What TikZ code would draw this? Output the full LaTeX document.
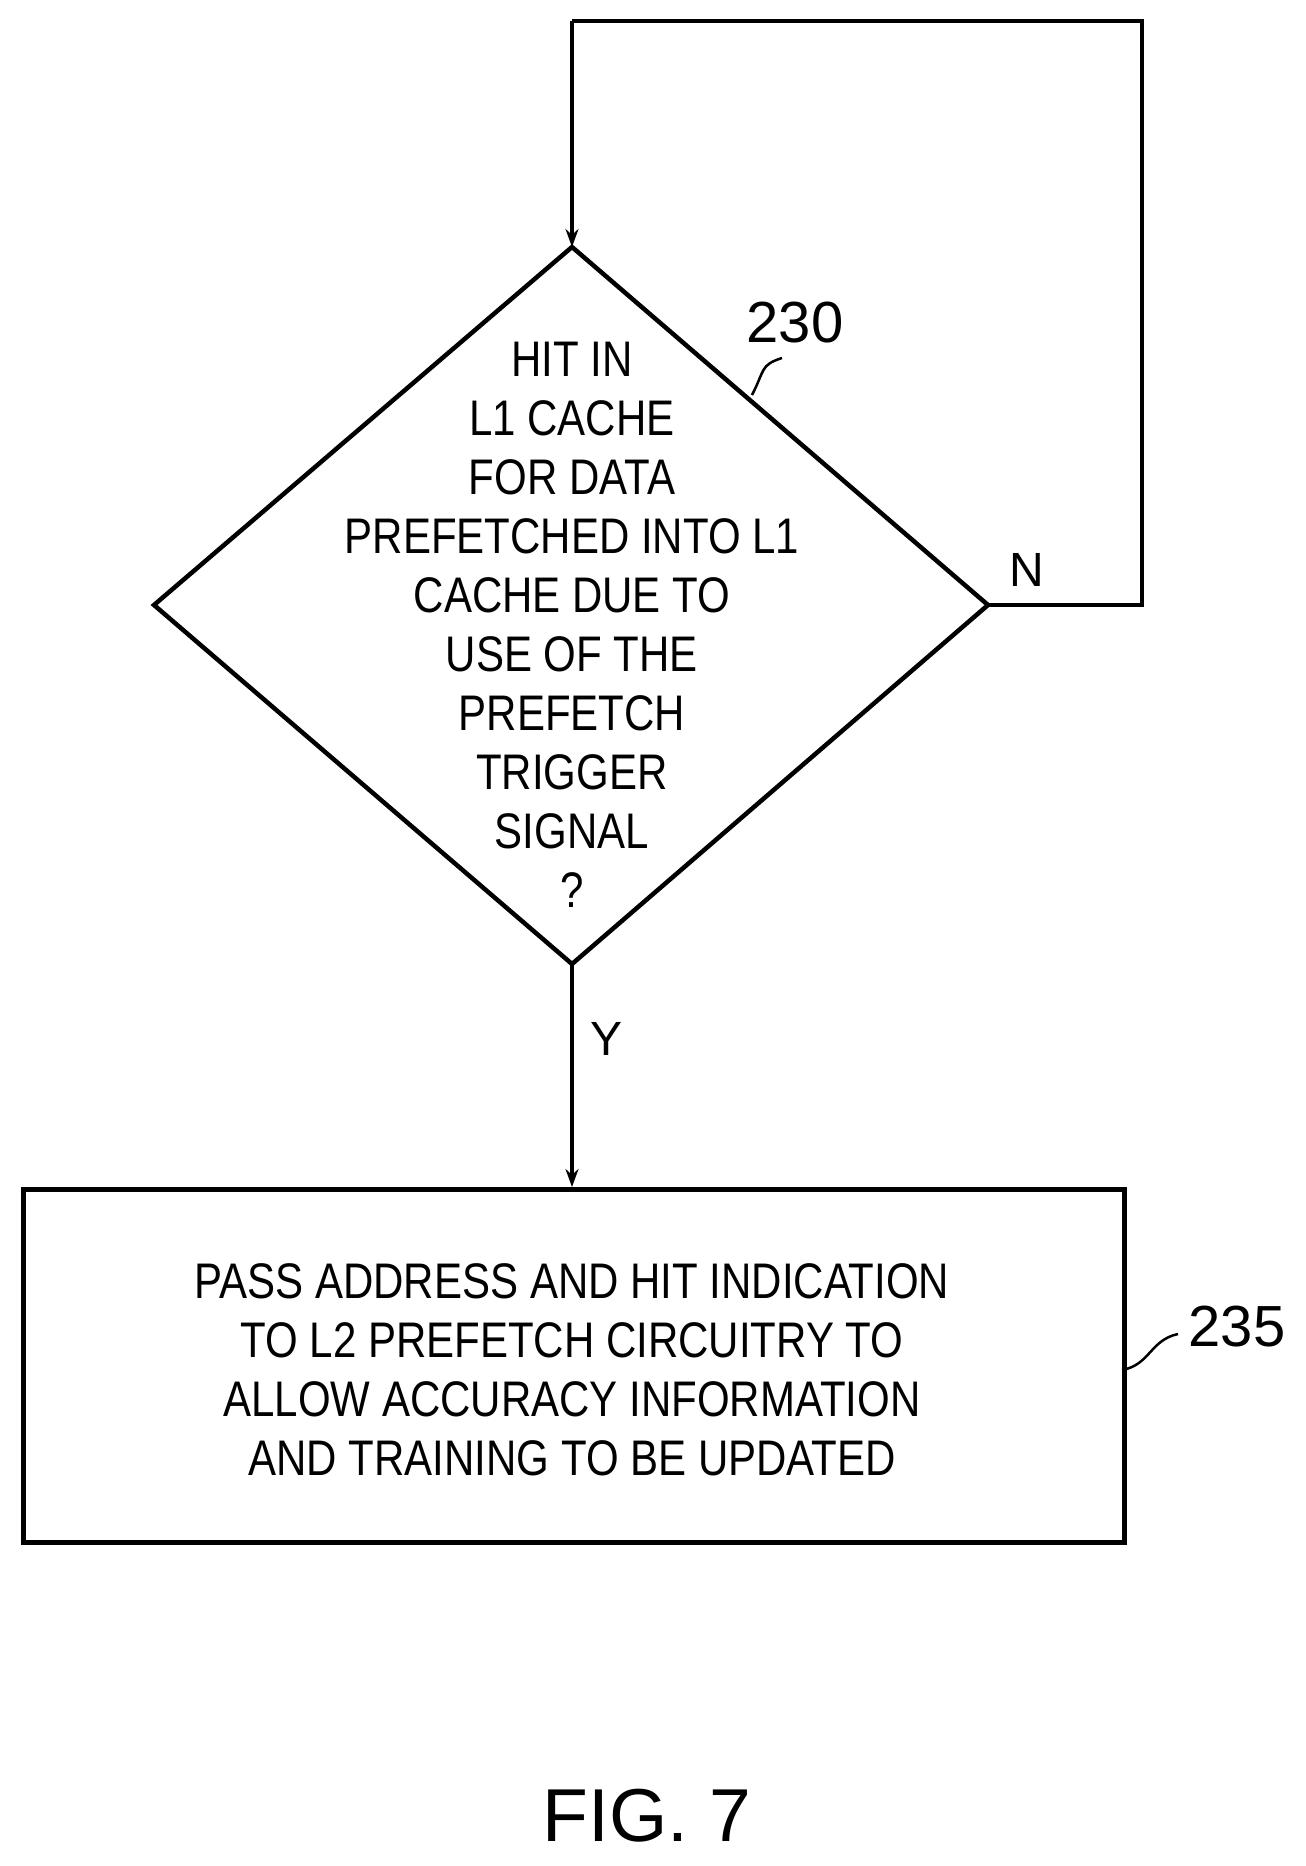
\documentclass[tikz,border=0pt]{standalone}
\usepackage{fontspec}
\setmainfont{Liberation Sans}[FakeStretch=0.84]
\newfontfamily\numfont{Liberation Sans}
\usetikzlibrary{shapes.geometric,arrows.meta,decorations.pathmorphing}
\begin{document}
\begin{tikzpicture}[x=1pt,y=-1pt,
  ln/.style={line width=4.5pt,black},
  arr/.style={ln,-{Stealth[length=18pt,width=13pt]}},
  txt/.style={font=\fontsize{50}{59}\selectfont,align=center},
  lbl/.style={font=\numfont\fontsize{58}{58}\selectfont}]
\useasboundingbox (0,0) rectangle (1306,1866);
\coordinate (dT) at (572,247);
\coordinate (dB) at (572,964);
\coordinate (dL) at (154,605);
\coordinate (dR) at (988,605);
\draw[ln] (dT) -- (dR) -- (dB) -- (dL) -- cycle;
\node[txt] (q) at (572,625) {HIT IN\\L1 CACHE\\FOR DATA\\PREFETCHED INTO L1\\CACHE DUE TO\\USE OF THE\\PREFETCH\\TRIGGER\\SIGNAL\\?};
\node[draw,ln,minimum width=1101pt,minimum height=353pt,anchor=north west,inner sep=0pt] (b) at (21,1187) {};
\node[txt] (bt) at (572,1370) {PASS ADDRESS AND HIT INDICATION\\TO L2 PREFETCH CIRCUITRY TO\\ALLOW ACCURACY INFORMATION\\AND TRAINING TO BE UPDATED};
\coordinate (c1) at (1142,605);
\coordinate (c2) at (1142,21);
\coordinate (c3) at (572,21);
\draw[ln] (dR) -- (c1) -- (c2) -- (c3);
\draw[arr] (c3) -- (dT);
\draw[arr] (dB) -- (b.north -| dB);
\node[font=\numfont\fontsize{48}{48}\selectfont] (N) at (1027,570) {N};
\node[font=\numfont\fontsize{48}{48}\selectfont] (Y) at (607,1039) {Y};
\node[lbl] (n230) at (795,323) {230};
\coordinate (l230) at (752,395);
\draw[line width=2.5pt] (l230) .. controls (765,370) and (760,365) .. (782,358);
\node[lbl] (n235) at (1237,1327) {235};
\coordinate (l235) at (1122,1370);
\draw[line width=2.5pt] (l235) .. controls (1150,1365) and (1150,1340) .. (1178,1334);
\node[font=\numfont\fontsize{75}{75}\selectfont] (fig) at (647,1816) {FIG. 7};
\end{tikzpicture}
\end{document}
